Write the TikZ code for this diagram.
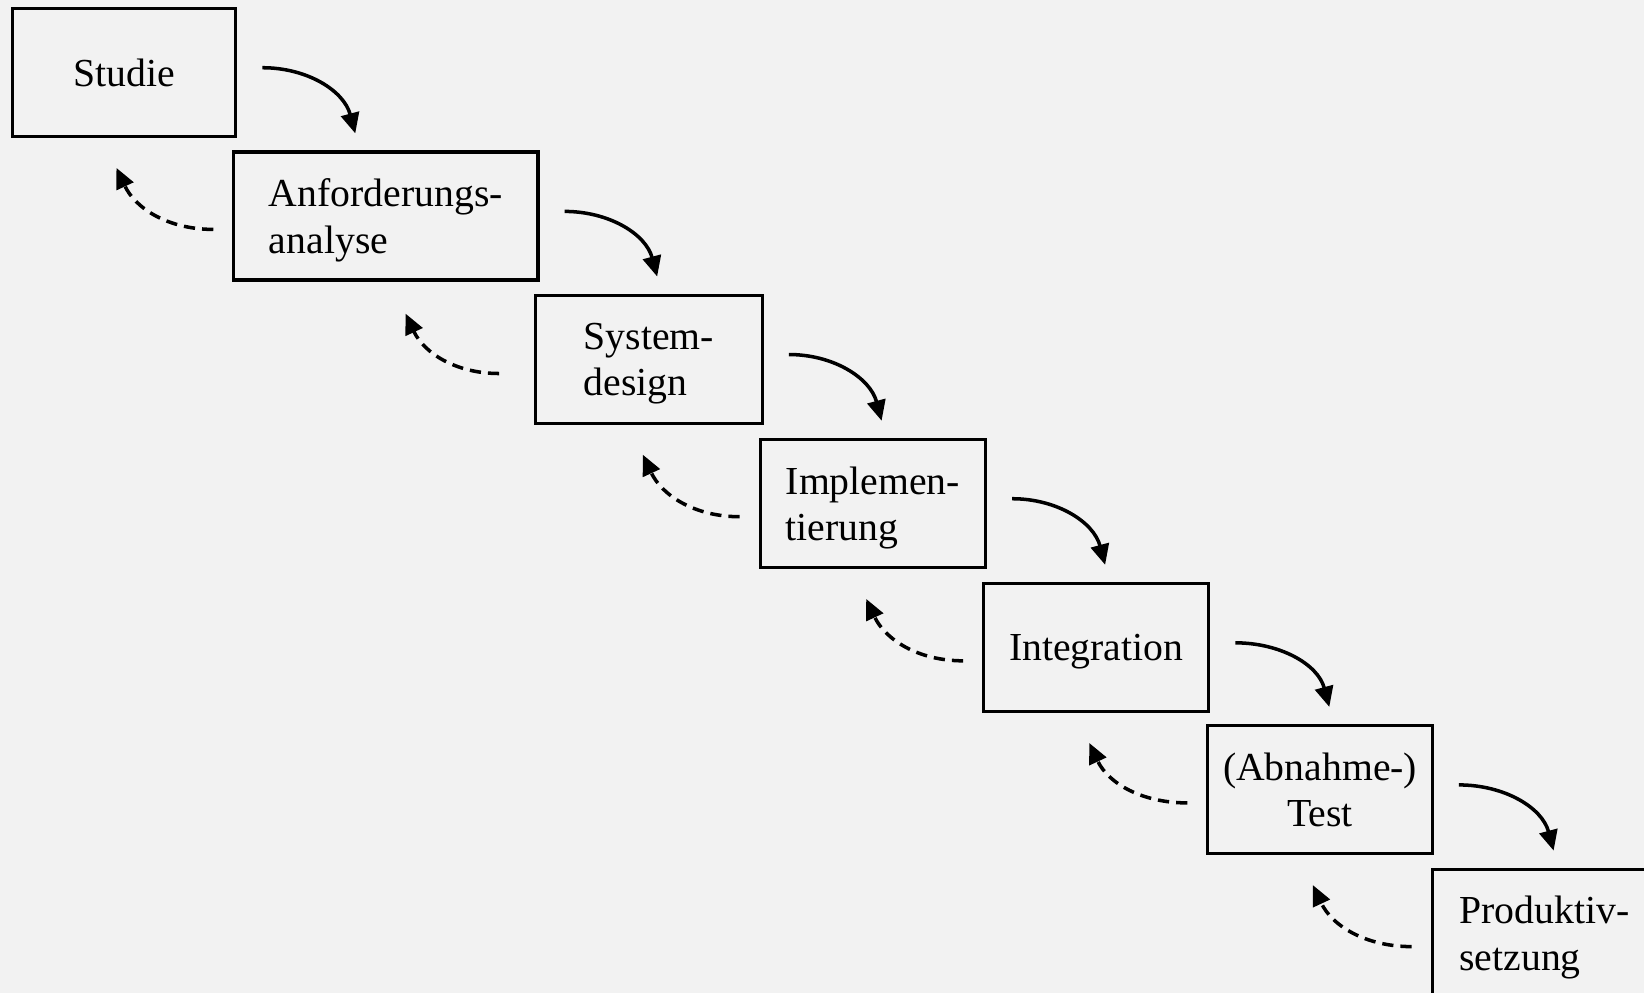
\documentclass[tikz,border=0pt]{standalone}
\usepackage{fontspec}
\setmainfont{Liberation Serif}
\usetikzlibrary{arrows.meta}
\definecolor{paper}{RGB}{242,242,242}

\begin{document}
\begin{tikzpicture}[
	phase/.style={rectangle, draw, line width=0.9pt, minimum width=2.25cm, minimum height=1.28cm, inner sep=0pt, text depth=0pt, align=left, font=\fontsize{11.3}{13.1}\selectfont},
	flow/.style={-{Triangle[length=5.8pt,width=5.2pt]}, line width=1pt},
	back/.style={flow, dash pattern=on 3.2pt off 2pt}]
	\useasboundingbox (0,0) rectangle (16.44,-9.93);
	\fill[paper] (0,0) rectangle (16.44,-9.93);
	\clip (0,0) rectangle (16.44,-9.93);
	% phases
	\node (studie) at (1.242,-0.723) [phase, minimum width=2.233cm, align=center] {Studie};
	\node (anf) at (3.859,-2.160) [phase, minimum width=3.041cm] {Anforderungs-\\analyse};
	\node (sys) at (6.490,-3.591) [phase, minimum width=2.265cm] {System-\\design};
	\node (impl) at (8.729,-5.033) [phase, minimum width=2.254cm] {Implemen-\\tierung};
	\node (integ) at (10.962,-6.474) [phase, align=center] {Integration};
	\node (test) at (13.201,-7.895) [phase, minimum width=2.244cm, align=center] {(Abnahme-)\\Test};
	\node (prod) at (15.444,-9.332) [phase, minimum width=2.244cm] {Produktiv-\\setzung};
	% forward
	\draw[flow] ([xshift=0.25cm,yshift=-0.61cm]studie.north east) to[out=0,in=105] ([xshift=1.23cm,yshift=0.17cm]anf.north west);
	\draw[flow] ([xshift=0.25cm,yshift=-0.61cm]anf.north east) to[out=0,in=105] ([xshift=1.23cm,yshift=0.17cm]sys.north west);
	\draw[flow] ([xshift=0.25cm,yshift=-0.61cm]sys.north east) to[out=0,in=105] ([xshift=1.23cm,yshift=0.17cm]impl.north west);
	\draw[flow] ([xshift=0.25cm,yshift=-0.61cm]impl.north east) to[out=0,in=105] ([xshift=1.23cm,yshift=0.17cm]integ.north west);
	\draw[flow] ([xshift=0.25cm,yshift=-0.61cm]integ.north east) to[out=0,in=105] ([xshift=1.23cm,yshift=0.17cm]test.north west);
	\draw[flow] ([xshift=0.25cm,yshift=-0.61cm]test.north east) to[out=0,in=105] ([xshift=1.23cm,yshift=0.17cm]prod.north west);
	% back
	\draw[back] ([xshift=-0.19cm,yshift=-0.79cm]anf.north west) to[out=180,in=-65] ([xshift=-1.21cm,yshift=-0.30cm]studie.south east);
	\draw[back] ([xshift=-0.35cm,yshift=-0.80cm]sys.north west) to[out=180,in=-65] ([xshift=-1.34cm,yshift=-0.32cm]anf.south east);
	\draw[back] ([xshift=-0.19cm,yshift=-0.79cm]impl.north west) to[out=180,in=-65] ([xshift=-1.21cm,yshift=-0.30cm]sys.south east);
	\draw[back] ([xshift=-0.19cm,yshift=-0.79cm]integ.north west) to[out=180,in=-65] ([xshift=-1.21cm,yshift=-0.30cm]impl.south east);
	\draw[back] ([xshift=-0.19cm,yshift=-0.79cm]test.north west) to[out=180,in=-65] ([xshift=-1.21cm,yshift=-0.30cm]integ.south east);
	\draw[back] ([xshift=-0.19cm,yshift=-0.79cm]prod.north west) to[out=180,in=-65] ([xshift=-1.21cm,yshift=-0.30cm]test.south east);
\end{tikzpicture}
\end{document}
